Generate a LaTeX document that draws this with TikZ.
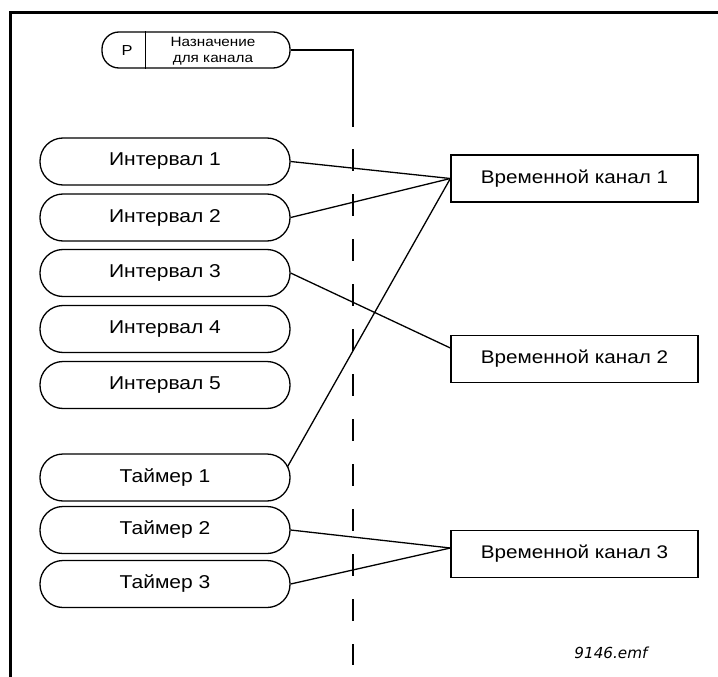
\documentclass[tikz,border=0pt]{standalone}
\usepackage{fontspec}
\setmainfont{Liberation Sans}
\newfontfamily\widefont[FakeStretch=1.13]{Liberation Sans}
\newfontfamily\emffont{DejaVu Sans}
\usetikzlibrary{calc}
\begin{document}
\begin{tikzpicture}[x=1pt,y=-1pt,
  pill/.style={draw, line width=1.3pt, rounded corners=23pt, minimum width=250pt, minimum height=47pt, inner sep=0pt, font=\widefont\fontsize{18.6}{21}\selectfont},
  chan/.style={draw, line width=1.3pt, minimum width=247pt, minimum height=47pt, inner sep=0pt, font=\widefont\fontsize{18.3}{21}\selectfont},
  legendbox/.style={draw, line width=1.3pt, rounded corners=17pt, minimum width=188pt, minimum height=36pt, inner sep=0pt},
  link/.style={line width=1.3pt},
  frameline/.style={line width=3pt, line join=miter},
  dashline/.style={line width=1.3pt, dash pattern=on 22pt off 23pt},
  small/.style={inner sep=0pt, font=\widefont\fontsize{13.5}{15.5}\selectfont, align=center}
]
\useasboundingbox (0,0) rectangle (718,677);
% frame
\coordinate (fTR) at (718,13);
\coordinate (fTL) at (10,13);
\coordinate (fBL) at (10,677);
\draw[frameline] (fTR) -- (fTL) -- (fBL);

% legend
\node[legendbox] (leg) at (196,50) {};
\draw[link] ($(leg.north west)+(44,0)$) -- ($(leg.south west)+(44,0)$);
\node[small, font=\widefont\fontsize{14.5}{16}\selectfont] (legP) at (127,51) {P};
\node[small] (legT) at (213,51) {Назначение\\для канала};

% dashed divider
\coordinate (dtop) at (353,127);
\coordinate (dstart) at (353,149);
\coordinate (dbot) at (353,665);
\draw[link] (leg.east) -| (dtop);
\draw[dashline] (dstart) -- (dbot);

% sources
\node[pill] (i1) at (165,161.5) {Интервал 1};
\node[pill] (i2) at (165,217.5) {Интервал 2};
\node[pill] (i3) at (165,273) {Интервал 3};
\node[pill] (i4) at (165,329) {Интервал 4};
\node[pill] (i5) at (165,385) {Интервал 5};
\node[pill] (t1) at (165,477.5) {Таймер 1};
\node[pill] (t2) at (165,530) {Таймер 2};
\node[pill] (t3) at (165,584) {Таймер 3};

% channels
\node[chan] (b1) at (574.5,178.5) {Временной канал 1};
\node[chan] (b2) at (574.5,359) {Временной канал 2};
\node[chan] (b3) at (574.5,554) {Временной канал 3};

% connectors
\coordinate (b2in) at ($(b2.west)+(0,-11)$);
\coordinate (b3in) at ($(b3.west)+(0,-6)$);
\coordinate (t1out) at ($(t1.east)+(-3,-11)$);
\draw[link] (i1.east) -- (b1.west);
\draw[link] (i2.east) -- (b1.west);
\draw[link] (i3.east) -- (b2in);
\draw[link] (t1out) -- (b1.west);
\draw[link] (t2.east) -- (b3in);
\draw[link] (t3.east) -- (b3in);

% file name
\node[inner sep=0pt, font=\emffont\itshape\fontsize{15.2}{17}\selectfont] (emf) at (611,653) {9146.emf};
\end{tikzpicture}
\end{document}
